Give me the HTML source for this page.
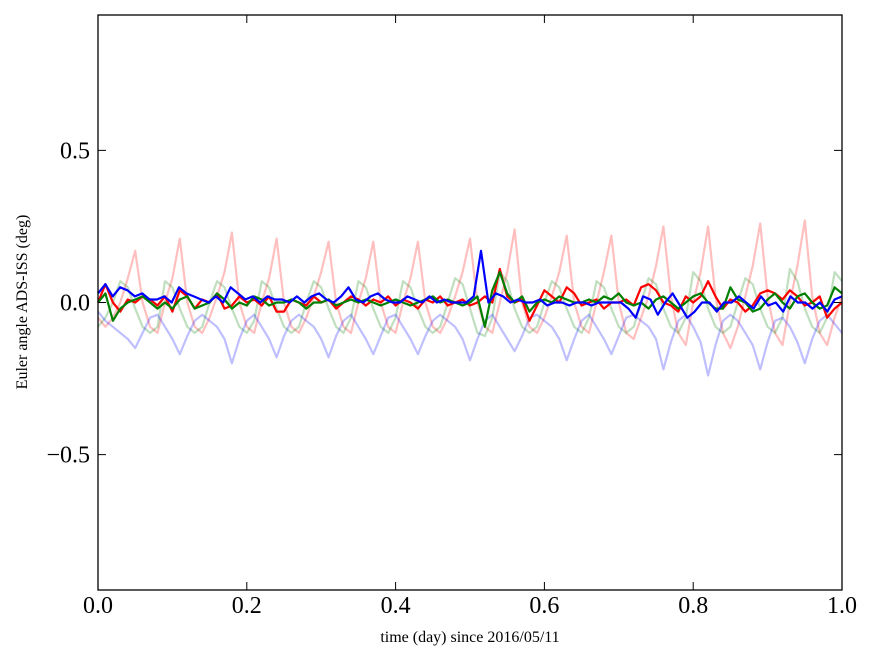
<!DOCTYPE html>
<html><head><meta charset="utf-8"><style>
body{margin:0;background:#fff;}
svg text{font-family:"Liberation Serif",serif;}
</style></head><body>
<svg id="chart" width="875" height="662" xmlns="http://www.w3.org/2000/svg">
<rect width="875" height="662" fill="#fff"/>
<g id="series"></g>
<g id="axes"></g>
<text x="470" y="642" font-size="16" text-anchor="middle">time (day) since 2016/05/11</text>
<text transform="translate(27,302) rotate(-90)" font-size="16" text-anchor="middle">Euler angle ADS-ISS (deg)</text>
</svg>
<script>
const xTicks=[0,0.2,0.4,0.6,0.8,1.0];
const xTickLabels=["0.0","0.2","0.4","0.6","0.8","1.0"];
const yTicks=[-0.5,0,0.5];
const yTickLabels=["\u22120.5","0.0","0.5"];
const redFaint=[-0.05,-0.08,-0.05,0.0,0.08,0.17,0.0,-0.08,-0.1,0.0,0.08,0.21,0.0,-0.08,-0.1,-0.05,0.02,0.1,0.23,0.0,-0.08,-0.1,0.0,0.08,0.21,0.0,-0.08,-0.1,-0.05,0.02,0.1,0.2,0.0,-0.08,-0.1,0.0,0.08,0.2,0.0,-0.08,-0.1,0.0,0.08,0.2,0.0,-0.08,-0.1,-0.05,0.02,0.1,0.21,0.0,-0.08,-0.1,0.0,0.1,0.24,0.0,-0.08,-0.1,-0.05,0.02,0.1,0.22,0.0,-0.08,-0.1,0.0,0.1,0.22,0.0,-0.1,-0.12,-0.05,0.02,0.12,0.25,0.02,-0.1,-0.14,0.0,0.1,0.25,0.02,-0.1,-0.15,-0.08,0.02,0.12,0.26,0.02,-0.1,-0.14,0.0,0.12,0.27,0.02,-0.1,-0.14,-0.05,0.02];
const greenFaint=[-0.08,-0.05,0.0,0.07,0.05,-0.02,-0.08,-0.1,-0.08,0.07,0.05,-0.02,-0.08,-0.1,-0.08,0.0,0.07,0.05,-0.02,-0.08,-0.1,-0.06,0.07,0.05,-0.02,-0.08,-0.1,-0.08,0.0,0.07,0.05,-0.02,-0.08,-0.1,-0.05,0.07,0.05,-0.02,-0.08,-0.1,-0.05,0.07,0.05,-0.02,-0.08,-0.1,-0.08,0.0,0.08,0.06,-0.02,-0.1,-0.11,-0.05,0.1,0.07,-0.02,-0.08,-0.1,-0.08,0.0,0.07,0.05,-0.02,-0.08,-0.1,-0.05,0.07,0.05,-0.02,-0.08,-0.1,-0.08,0.0,0.08,0.06,-0.02,-0.08,-0.1,-0.05,0.1,0.07,-0.02,-0.08,-0.1,-0.08,0.0,0.08,0.06,-0.02,-0.08,-0.1,-0.05,0.11,0.07,-0.02,-0.08,-0.1,-0.05,0.1,0.07];
const blueFaint=[-0.03,-0.06,-0.08,-0.1,-0.12,-0.15,-0.1,-0.05,-0.04,-0.08,-0.12,-0.17,-0.11,-0.06,-0.04,-0.06,-0.08,-0.12,-0.2,-0.12,-0.06,-0.04,-0.08,-0.12,-0.18,-0.11,-0.06,-0.04,-0.06,-0.08,-0.12,-0.18,-0.11,-0.06,-0.04,-0.08,-0.12,-0.17,-0.11,-0.05,-0.04,-0.08,-0.12,-0.17,-0.11,-0.06,-0.04,-0.06,-0.08,-0.12,-0.19,-0.12,-0.06,-0.04,-0.08,-0.12,-0.16,-0.11,-0.05,-0.04,-0.06,-0.08,-0.12,-0.19,-0.12,-0.06,-0.04,-0.08,-0.12,-0.17,-0.11,-0.05,-0.04,-0.06,-0.08,-0.12,-0.22,-0.13,-0.06,-0.04,-0.08,-0.13,-0.24,-0.14,-0.06,-0.04,-0.06,-0.1,-0.14,-0.22,-0.13,-0.06,-0.05,-0.08,-0.13,-0.2,-0.12,-0.06,-0.04,-0.07,-0.1];
const redMain=[0.0,0.06,0.0,-0.03,0.01,0.0,0.02,0.01,-0.01,0.02,-0.03,0.04,0.02,-0.02,0.01,0.0,0.03,-0.02,-0.01,0.02,0.0,0.01,-0.01,0.02,-0.03,-0.03,0.01,0.0,-0.01,0.02,0.0,0.01,-0.02,0.0,0.02,0.01,-0.01,0.01,0.0,0.02,-0.01,0.01,0.0,-0.02,0.01,0.0,0.02,-0.01,0.0,0.01,-0.01,0.0,0.02,0.0,0.11,0.02,0.0,0.01,-0.06,-0.01,0.04,0.02,0.0,0.05,0.03,-0.01,0.0,0.01,-0.02,0.0,0.0,0.01,-0.01,0.05,0.06,0.04,0.0,-0.01,-0.03,0.02,0.0,0.02,0.07,0.02,-0.02,0.01,0.0,-0.03,-0.01,0.03,0.04,0.03,0.01,0.04,0.02,-0.01,0.0,0.02,-0.05,-0.02,0.0];
const greenMain=[0.0,0.03,-0.06,-0.02,0.0,0.01,0.02,0.0,-0.02,0.0,-0.02,0.01,0.02,-0.02,-0.01,0.0,0.03,0.01,-0.02,0.0,-0.01,0.02,0.01,-0.01,0.0,0.0,0.01,0.0,-0.02,0.0,0.0,0.01,-0.01,0.0,0.01,0.0,0.01,0.0,-0.01,0.0,0.01,0.0,-0.01,0.0,0.01,0.02,0.0,0.01,0.0,-0.01,0.0,0.02,-0.08,0.04,0.1,0.03,0.0,0.02,-0.03,0.0,0.01,0.0,0.02,0.01,0.0,0.0,0.01,0.0,0.02,0.01,0.03,0.0,-0.01,0.0,-0.02,0.01,0.02,0.0,-0.02,0.0,0.02,0.03,0.0,-0.02,-0.02,0.05,0.01,0.0,-0.03,-0.02,0.01,0.03,0.0,-0.02,0.02,0.03,0.0,-0.02,-0.01,0.05,0.03];
const blueMain=[0.03,0.06,0.02,0.05,0.04,0.02,0.03,0.01,0.01,0.02,0.0,0.05,0.03,0.02,0.01,0.0,0.02,0.0,0.05,0.03,0.01,0.02,0.0,0.02,0.01,0.01,0.0,0.02,0.0,0.02,0.03,0.01,0.0,0.02,0.05,0.01,0.0,0.02,0.03,0.01,0.0,0.0,0.02,0.01,0.0,0.02,0.0,0.01,0.0,0.0,0.0,0.02,0.17,0.0,0.03,0.02,0.0,0.01,0.0,0.0,0.01,-0.01,0.0,0.0,-0.01,0.0,0.0,-0.01,0.0,0.0,0.0,0.0,-0.02,-0.05,0.02,0.01,-0.04,0.0,0.03,-0.01,-0.05,-0.03,0.0,0.0,-0.03,0.0,0.0,0.02,0.0,-0.02,0.02,-0.01,0.0,-0.03,0.02,0.0,0.0,-0.02,0.0,-0.03,0.01,0.02];
const L=98,R=842,T=15,B=590,Y0=-0.945,Y1=0.945;
const sx=v=>L+(v-0)/(1-0)*(R-L);
const sy=v=>B-(v-Y0)/(Y1-Y0)*(B-T);
const NS="http://www.w3.org/2000/svg";
const sg=document.getElementById('series');
function addLine(vals,color,op,width,name){
  const p=document.createElementNS(NS,'path');
  const n=vals.length;
  p.setAttribute('d',vals.map((v,i)=>(i?'L':'M')+sx(i/(n-1)).toFixed(1)+','+sy(v).toFixed(1)).join(''));
  p.setAttribute('fill','none');p.setAttribute('stroke',color);
  p.setAttribute('stroke-opacity',op);p.setAttribute('stroke-width',width);
  p.setAttribute('stroke-linejoin','round');
  
  
  sg.appendChild(p);
}
addLine(redFaint,'#ff0000',0.25,2.2,'red-faint-line');
addLine(greenFaint,'#008000',0.25,2.2,'green-faint-line');
addLine(blueFaint,'#0000ff',0.25,2.2,'blue-faint-line');
addLine(redMain,'#ff0000',1,2.2,'red-line');
addLine(greenMain,'#008000',1,2.2,'green-line');
addLine(blueMain,'#0000ff',1,2.2,'blue-line');
const ax=document.getElementById('axes');
function el(tag,attrs,name){const e=document.createElementNS(NS,tag);for(const k in attrs)e.setAttribute(k,attrs[k]);
  
  
  ax.appendChild(e);return e;}
el('rect',{x:L,y:T,width:R-L,height:B-T,fill:'none',stroke:'#000','stroke-width':1.3},'plot-frame');
xTicks.forEach((v,i)=>{const x=sx(v);
  el('line',{x1:x,x2:x,y1:B,y2:B-8,stroke:'#000'},'x-tick');
  el('line',{x1:x,x2:x,y1:T,y2:T+8,stroke:'#000'},'x-tick-top');
  const t=el('text',{x:x,y:613,'font-size':24,'text-anchor':'middle'},'x-tick-label');t.textContent=xTickLabels[i];});
yTicks.forEach((v,i)=>{const y=sy(v);
  el('line',{x1:L,x2:L+8,y1:y,y2:y,stroke:'#000'},'y-tick');
  el('line',{x1:R,x2:R-8,y1:y,y2:y,stroke:'#000'},'y-tick-right');
  const t=el('text',{x:L-8,y:y+8,'font-size':24,'text-anchor':'end'},'y-tick-label');t.textContent=yTickLabels[i];});
</script>
</body></html>
